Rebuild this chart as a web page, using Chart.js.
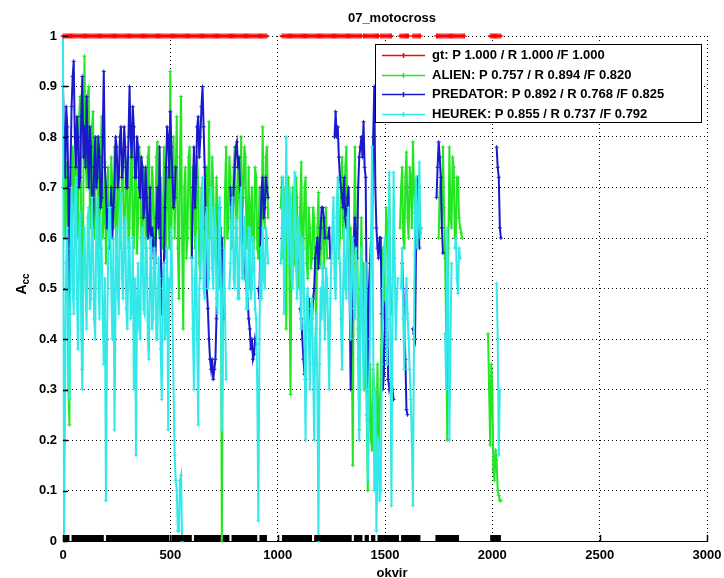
<!DOCTYPE html>
<html>
<head>
<meta charset="utf-8">
<script src="https://cdn.jsdelivr.net/npm/chart.js@4.4.1/dist/chart.umd.min.js"></script>
<style>
html,body{margin:0;padding:0;background:#fff;}
#wrap{width:724px;height:578px;position:relative;}
</style>
</head>
<body>
<div id="wrap"><canvas id="c" width="724" height="578"></canvas></div>
<script>
// ---------------- data ----------------
const chartTitle = '07_motocross';
const xAxisTitle = 'okvir';
const yAxisTitleMain = 'A';
const yAxisTitleSub = 'cc';
const xTickLabels = ['0','500','1000','1500','2000','2500','3000'];
const yTickLabels = ['0','0.1','0.2','0.3','0.4','0.5','0.6','0.7','0.8','0.9','1'];
const seriesNames = [
  'gt: P 1.000 / R 1.000 /F 1.000',
  'ALIEN: P 0.757 / R 0.894 /F 0.820',
  'PREDATOR: P 0.892 / R 0.768 /F 0.825',
  'HEUREK: P 0.855 / R 0.737 /F 0.792'
];

// frame numbers (every 5th frame)
const frames = [
  0,5,10,15,20,25,30,35,40,45,50,55,60,65,70,75,80,85,90,95,
  100,105,110,115,120,125,130,135,140,145,150,155,160,165,170,175,180,185,190,195,
  200,205,210,215,220,225,230,235,240,245,250,255,260,265,270,275,280,285,290,295,
  300,305,310,315,320,325,330,335,340,345,350,355,360,365,370,375,380,385,390,395,
  400,405,410,415,420,425,430,435,440,445,450,455,460,465,470,475,480,485,490,495,
  500,505,510,515,520,525,530,535,540,545,550,555,560,565,570,575,580,585,590,595,
  600,605,610,615,620,625,630,635,640,645,650,655,660,665,670,675,680,685,690,695,
  700,705,710,715,720,725,730,735,740,745,750,755,760,765,770,775,780,785,790,795,
  800,805,810,815,820,825,830,835,840,845,850,855,860,865,870,875,880,885,890,895,
  900,905,910,915,920,925,930,935,940,945,950,955,960,965,970,975,980,985,990,995,
  1000,1005,1010,1015,1020,1025,1030,1035,1040,1045,1050,1055,1060,1065,1070,1075,1080,1085,1090,1095,
  1100,1105,1110,1115,1120,1125,1130,1135,1140,1145,1150,1155,1160,1165,1170,1175,1180,1185,1190,1195,
  1200,1205,1210,1215,1220,1225,1230,1235,1240,1245,1250,1255,1260,1265,1270,1275,1280,1285,1290,1295,
  1300,1305,1310,1315,1320,1325,1330,1335,1340,1345,1350,1355,1360,1365,1370,1375,1380,1385,1390,1395,
  1400,1405,1410,1415,1420,1425,1430,1435,1440,1445,1450,1455,1460,1465,1470,1475,1480,1485,1490,1495,
  1500,1505,1510,1515,1520,1525,1530,1535,1540,1545,1550,1555,1560,1565,1570,1575,1580,1585,1590,1595,
  1600,1605,1610,1615,1620,1625,1630,1635,1640,1645,1650,1655,1660,1665,1670,1675,1680,1685,1690,1695,
  1700,1705,1710,1715,1720,1725,1730,1735,1740,1745,1750,1755,1760,1765,1770,1775,1780,1785,1790,1795,
  1800,1805,1810,1815,1820,1825,1830,1835,1840,1845,1850,1855,1860,1865,1870,1875,1880,1885,1890,1895,
  1900,1905,1910,1915,1920,1925,1930,1935,1940,1945,1950,1955,1960,1965,1970,1975,1980,1985,1990,1995,
  2000,2005,2010,2015,2020,2025,2030,2035,2040
];

const N = null;

const gt = [
  1,1,1,1,1,1,1,1,1,1,1,1,1,1,1,1,1,1,1,1,
  1,1,1,1,1,1,1,1,1,1,1,1,1,1,1,1,1,1,1,1,
  1,1,1,1,1,1,1,1,1,1,1,1,1,1,1,1,1,1,1,1,
  1,1,1,1,1,1,1,1,1,1,1,1,1,1,1,1,1,1,1,1,
  1,1,1,1,1,1,1,1,1,1,1,1,1,1,1,1,1,1,1,1,
  1,1,1,1,1,1,1,1,1,1,1,1,1,1,1,1,1,1,1,1,
  1,1,1,1,1,1,1,1,1,1,1,1,1,1,1,1,1,1,1,1,
  1,1,1,1,1,1,1,1,1,1,1,1,1,1,1,1,1,1,1,1,
  1,1,1,1,1,1,1,1,1,1,1,1,1,1,1,1,1,1,1,1,
  1,1,1,1,1,1,1,1,1,1,1,N,N,N,N,N,N,N,N,N,
  N,N,N,N,1,1,1,1,1,1,1,1,1,1,1,1,1,1,1,1,
  1,1,1,1,1,1,1,1,1,1,1,1,1,1,1,1,1,1,1,1,
  1,1,1,1,1,1,1,1,1,1,1,1,1,1,1,1,1,1,1,1,
  1,1,1,1,1,1,1,1,1,1,1,1,1,1,1,1,1,1,1,N,
  1,1,1,1,1,1,1,1,1,1,1,1,1,1,1,N,1,1,1,1,
  1,1,1,1,1,1,1,N,N,N,N,N,N,N,1,1,1,1,1,1,
  1,1,1,N,N,N,1,1,1,1,1,1,1,1,N,N,N,N,N,N,
  N,N,N,N,N,N,N,N,1,1,1,1,1,1,1,1,1,1,1,1,
  1,1,1,1,1,1,1,1,1,1,1,1,1,1,1,N,N,N,N,N,
  N,N,N,N,N,N,N,N,N,N,N,N,N,N,N,N,N,N,1,1,
  1,1,1,1,1,1,1,1,1
];

const alien = [
  0.70,0.74,0.60,0.72,0.75,0.30,0.23,0.62,0.55,0.78,0.72,0.60,0.82,0.66,0.60,0.84,0.88,0.62,0.34,0.70,
  0.96,0.76,0.70,0.88,0.90,0.66,0.62,0.82,0.85,0.60,0.66,0.78,0.80,0.62,0.58,0.76,0.84,0.60,0.64,0.75,
  0.55,0.70,0.74,0.58,0.60,0.76,0.70,0.62,0.78,0.64,0.56,0.74,0.72,0.58,0.62,0.77,0.76,0.58,0.60,0.75,
  0.74,0.58,0.62,0.76,0.78,0.60,0.58,0.74,0.72,0.57,0.64,0.78,0.75,0.60,0.56,0.74,0.72,0.58,0.62,0.76,
  0.78,0.62,0.58,0.74,0.70,0.56,0.62,0.76,0.79,0.62,0.60,0.72,0.64,0.58,0.78,0.60,0.56,0.72,0.74,0.58,
  0.93,0.62,0.70,0.80,0.60,0.72,0.84,0.58,0.48,0.76,0.88,0.60,0.42,0.70,0.74,0.56,0.60,0.76,0.78,0.62,
  0.56,0.74,0.72,0.58,0.62,0.76,0.70,0.55,0.52,0.70,0.66,0.56,0.58,0.72,0.74,0.60,0.83,0.64,0.60,0.76,
  0.70,0.58,0.56,0.72,0.66,0.54,0.50,0.62,0.00,0.48,0.50,0.70,0.78,0.60,0.62,0.76,0.72,0.58,0.60,0.74,
  0.78,0.62,0.64,0.76,0.70,0.60,0.80,0.64,0.68,0.78,0.76,0.58,0.62,0.74,0.50,0.66,0.70,0.56,0.60,0.74,
  0.72,0.58,0.56,0.70,0.66,0.60,0.82,0.64,0.62,0.76,0.78,0.64,N,N,N,N,N,N,N,N,
  N,N,N,0.66,0.72,0.56,0.58,0.70,0.42,0.66,0.72,0.50,0.29,0.62,0.70,0.56,0.55,0.72,0.68,0.54,
  0.50,0.66,0.75,0.56,0.58,0.70,0.72,0.55,0.52,0.66,0.62,0.54,0.56,0.66,0.64,0.50,0.42,0.62,0.69,0.56,
  0.55,0.64,0.62,0.54,0.60,0.66,0.56,N,N,N,N,N,N,N,N,0.64,0.70,0.56,0.60,0.72,
  0.76,0.60,0.65,0.74,0.78,0.62,0.70,0.56,0.62,0.40,0.15,0.60,0.78,0.58,0.62,0.42,0.22,0.50,0.64,0.48,
  0.55,0.30,0.40,0.25,0.10,0.28,0.35,0.20,0.18,0.34,0.30,0.16,0.22,0.35,0.18,0.26,0.32,0.45,0.58,0.44,
  0.48,0.66,0.62,0.54,0.70,0.52,0.45,N,N,N,N,N,N,N,0.62,0.70,0.74,0.60,0.58,0.72,
  0.77,0.64,0.60,0.74,0.72,0.62,0.79,0.70,0.65,N,N,N,N,N,N,N,N,N,N,N,
  N,N,N,N,N,N,N,N,N,N,0.60,0.70,0.72,0.62,0.78,0.66,0.56,0.41,0.20,0.58,
  0.78,0.64,0.62,0.76,0.74,0.60,0.60,0.72,0.72,0.64,0.62,0.61,0.60,N,N,N,N,N,N,N,
  N,N,N,N,N,N,N,N,N,N,N,N,N,N,N,N,0.41,0.30,0.19,0.35,
  0.30,0.14,0.12,0.18,0.16,0.10,0.09,0.08,0.08
];

const predator = [
  0.90,0.80,0.72,0.86,0.82,0.70,0.45,0.74,0.86,0.92,0.95,0.80,0.74,0.84,0.80,0.70,0.72,0.84,0.92,0.76,
  0.82,0.74,0.88,0.78,0.70,0.82,0.78,0.66,0.62,0.74,0.80,0.70,0.72,0.80,0.76,0.66,0.68,0.80,0.93,0.74,
  0.70,0.62,0.66,0.58,0.62,0.70,0.60,0.66,0.70,0.80,0.78,0.70,0.72,0.80,0.82,0.72,0.74,0.82,0.78,0.70,
  0.70,0.80,0.90,0.80,0.76,0.86,0.82,0.72,0.72,0.80,0.78,0.70,0.68,0.76,0.74,0.64,0.66,0.74,0.68,0.60,
  0.62,0.70,0.56,0.62,0.60,0.54,0.55,0.64,0.70,0.62,0.78,0.60,0.45,0.50,0.55,0.66,0.74,0.82,0.80,0.72,
  0.85,0.78,0.72,0.66,0.68,0.74,N,N,N,N,N,N,N,N,N,N,N,N,N,N,
  0.56,0.70,0.78,0.66,0.72,0.82,0.84,0.76,0.80,0.86,0.90,0.82,0.74,0.62,0.50,0.46,0.40,0.36,0.34,0.36,
  0.32,0.34,0.36,0.44,0.55,0.64,0.66,0.58,0.60,0.50,0.44,N,N,N,N,N,0.70,0.64,0.62,0.70,
  0.74,0.78,0.79,0.74,0.76,0.70,0.68,0.62,0.58,0.56,0.52,0.50,0.48,0.44,0.42,0.38,0.40,0.36,0.37,0.40,
  0.39,N,0.50,0.48,0.62,0.70,0.72,0.64,0.66,0.72,0.70,0.68,N,N,N,N,N,N,N,N,
  N,N,N,N,N,N,N,N,N,N,N,N,N,N,N,N,N,N,0.56,0.55,
  N,0.46,0.44,0.40,0.36,0.33,0.32,N,N,0.48,0.46,0.42,0.44,0.48,0.50,0.56,0.58,0.60,0.54,0.58,
  0.62,0.66,0.66,0.64,0.60,N,N,0.60,0.62,0.56,0.58,N,N,0.80,0.85,0.80,0.82,0.76,0.72,0.70,
  0.68,0.66,0.72,0.64,0.62,0.68,0.70,0.50,0.30,0.44,0.55,0.60,0.64,0.58,0.56,0.70,0.76,0.78,0.80,0.76,
  0.83,0.74,0.72,0.45,0.24,0.50,0.55,0.60,0.62,0.80,0.90,0.70,0.62,0.58,0.56,0.60,0.60,0.45,0.30,0.33,
  0.46,0.45,0.44,0.32,0.30,0.31,0.32,0.30,0.28,N,N,N,N,N,N,N,0.55,0.50,0.44,0.36,
  0.26,0.25,N,N,N,N,0.42,0.41,0.40,0.60,0.72,0.66,0.58,N,N,N,N,N,N,N,
  N,N,N,N,N,N,N,N,0.68,0.74,0.79,0.76,0.72,0.62,0.57,N,N,N,N,N,
  N,N,N,N,N,N,N,N,N,N,N,N,N,N,N,N,N,N,N,N,
  N,N,N,N,N,N,N,N,N,N,N,N,N,N,N,N,N,N,N,N,
  N,N,N,N,0.78,0.74,0.72,0.62,0.60
];

const heurek = [
  1.00,0.00,0.30,0.55,0.62,0.40,0.28,0.58,0.70,0.50,0.45,0.66,0.72,0.48,0.38,0.60,0.65,0.42,0.30,0.56,
  0.62,0.50,0.42,0.64,0.66,0.46,0.48,0.68,0.60,0.44,0.40,0.62,0.68,0.50,0.44,0.64,0.58,0.45,0.35,0.52,
  0.08,0.40,0.55,0.66,0.66,0.50,0.40,0.60,0.22,0.48,0.62,0.50,0.45,0.66,0.69,0.52,0.48,0.62,0.64,0.46,
  0.42,0.58,0.60,0.44,0.46,0.60,0.30,0.52,0.17,0.48,0.55,0.42,0.40,0.60,0.62,0.46,0.45,0.60,0.58,0.40,
  0.36,0.52,0.60,0.42,0.44,0.58,0.56,0.40,0.40,0.56,0.52,0.38,0.28,0.50,0.55,0.40,0.42,0.58,0.22,0.52,
  0.50,0.62,0.45,0.30,0.17,0.12,0.10,0.02,0.02,0.12,0.13,0.00,N,N,N,N,N,N,N,N,
  0.56,0.42,0.30,0.52,0.60,0.40,0.23,0.50,0.55,0.68,0.72,0.50,0.48,0.64,0.66,0.50,0.52,0.68,0.70,0.54,
  0.50,0.66,0.62,0.48,0.45,0.64,0.68,0.50,0.22,0.48,0.58,0.45,0.32,N,N,0.50,0.55,0.66,0.68,0.52,
  0.50,0.64,0.62,0.48,0.48,0.66,0.70,0.52,0.52,0.64,0.60,0.46,0.46,0.62,0.62,0.48,0.50,0.60,0.56,0.46,
  0.44,0.30,0.04,0.40,0.58,0.48,0.62,0.52,0.50,0.62,0.60,0.55,N,N,N,N,N,N,N,N,
  N,N,N,0.55,0.62,0.72,0.45,0.60,0.80,0.62,0.55,0.70,0.68,0.52,0.50,0.66,0.73,0.56,0.48,0.64,
  0.62,0.50,0.42,0.60,0.58,0.40,0.20,0.48,0.50,0.40,0.30,0.46,0.48,0.35,0.20,0.40,0.45,0.30,0.00,0.35,
  0.50,0.44,0.55,0.48,0.40,0.54,0.52,0.42,0.30,0.48,0.55,0.62,0.68,0.52,0.48,0.64,0.72,0.58,0.55,0.44,
  0.34,0.50,0.62,0.50,0.48,0.64,0.66,0.50,0.40,0.56,0.60,0.46,0.44,0.58,0.52,0.36,0.20,0.44,0.58,0.42,
  0.30,0.46,0.55,0.30,0.12,0.30,0.40,0.60,0.78,0.40,0.10,0.30,0.02,0.15,0.20,0.08,0.10,0.35,0.50,0.58,
  0.60,0.48,0.35,0.55,0.73,0.40,0.07,0.45,0.73,0.56,0.40,0.48,0.52,N,N,0.50,0.58,0.44,0.34,0.46,
  0.52,0.45,0.40,0.34,0.28,0.20,0.07,0.40,0.66,0.72,0.58,0.64,0.75,0.60,0.62,N,N,N,N,N,
  N,N,N,N,N,N,N,N,N,N,N,N,N,N,N,N,0.41,0.30,0.62,0.45,
  0.20,0.40,0.55,N,N,0.58,0.60,0.52,0.49,0.58,0.56,N,N,N,N,N,N,N,N,N,
  N,N,N,N,N,N,N,N,N,N,N,N,N,N,N,N,N,N,N,N,
  N,N,N,N,0.51,0.40,0.17,0.30,N
];

// frames marked at zero (black band along the bottom)
const missed = [
  0,0,0,0,0,0,0,N,0,0,0,0,0,0,0,0,0,0,0,0,
  0,0,0,0,0,0,0,0,0,0,0,0,0,0,0,0,0,0,0,N,
  0,0,0,0,0,0,0,0,0,0,0,0,0,0,0,0,0,0,0,0,
  0,0,0,0,0,0,0,0,0,0,0,0,0,0,0,0,0,0,0,0,
  0,0,0,0,0,0,0,0,0,0,0,0,0,0,0,0,0,0,0,0,
  N,0,0,0,0,0,0,0,0,0,0,0,0,0,0,0,0,0,0,0,
  0,N,0,0,0,0,0,0,0,0,0,0,0,0,0,0,0,0,0,0,
  0,0,0,0,0,0,0,0,N,0,0,0,0,0,0,0,N,0,0,0,
  0,0,0,0,0,0,0,0,0,0,0,0,0,0,0,0,0,0,0,0,
  0,0,N,0,0,0,0,0,0,0,0,N,N,N,N,N,N,N,N,N,
  N,N,N,N,0,0,0,0,0,0,0,0,0,0,0,0,0,0,0,0,
  0,0,0,0,0,0,0,0,0,0,0,0,0,N,0,0,0,0,0,0,
  0,0,0,0,0,0,0,0,0,0,0,0,0,0,0,0,0,0,0,0,
  0,0,0,0,0,0,0,0,0,0,N,0,0,0,0,0,0,0,0,0,
  N,0,0,0,0,0,N,0,0,0,0,0,N,0,0,0,0,0,0,0,
  0,0,0,0,0,0,0,0,0,0,0,0,0,0,N,0,0,0,0,0,
  0,0,0,0,0,0,0,0,0,0,0,0,0,0,N,N,N,N,N,N,
  N,N,N,N,N,N,N,0,0,0,0,0,0,0,0,0,0,0,0,0,
  0,0,0,0,0,0,0,0,0,0,N,N,N,N,N,N,N,N,N,N,
  N,N,N,N,N,N,N,N,N,N,N,N,N,N,N,N,N,N,0,0,
  0,0,0,0,0,0,0,0,0
];

// ---------------- styles ----------------
const COL_GT = '#ff0000';
const COL_ALIEN = '#22e622';
const COL_PRED = '#1a1acc';
const COL_HEUR = '#33e8e8';
const FONT = '"Liberation Sans", Arial, Helvetica, sans-serif';

function pts(vals) { return frames.map((f, i) => ({ x: f, y: vals[i] === undefined ? null : vals[i] })); }
function series(label, vals, color, bw, pr) {
  return {
    label, data: pts(vals), borderColor: color, backgroundColor: color,
    borderWidth: bw, tension: 0, fill: false, clip: 4,
    pointStyle: 'cross', pointRadius: pr, pointBorderWidth: 1,
    pointBorderColor: color, pointBackgroundColor: color
  };
}

const insideTicks = {
  id: 'insideTicks',
  afterDatasetsDraw(chart) {
    const { ctx, chartArea: a, scales: { x, y } } = chart;
    ctx.save();
    ctx.strokeStyle = '#000';
    ctx.lineWidth = 1.5;
    ctx.beginPath();
    y.ticks.forEach(t => { const py = Math.round(y.getPixelForValue(t.value)) + 0.5; ctx.moveTo(a.left, py); ctx.lineTo(a.left + 5, py); });
    x.ticks.forEach(t => { const px = Math.round(x.getPixelForValue(t.value)) + 0.5; ctx.moveTo(px, a.bottom); ctx.lineTo(px, a.bottom - 6); });
    ctx.stroke();
    ctx.restore();
  }
};

const textAndLegend = {
  id: 'textAndLegend',
  afterDraw(chart) {
    const { ctx, chartArea: a } = chart;
    ctx.save();
    ctx.fillStyle = '#000';
    ctx.font = 'bold 13px ' + FONT;
    ctx.textAlign = 'center';
    ctx.textBaseline = 'middle';
    ctx.fillText(chartTitle, 392, 18);
    ctx.textBaseline = 'alphabetic';
    ctx.fillText(xAxisTitle, 392, 577);
    ctx.save();
    ctx.translate(22, 284);
    ctx.rotate(-Math.PI / 2);
    ctx.font = 'bold 14px ' + FONT;
    const wA = ctx.measureText(yAxisTitleMain).width;
    ctx.font = 'bold 10px ' + FONT;
    const wS = ctx.measureText(yAxisTitleSub).width;
    const start = -(wA + wS) / 2;
    ctx.textAlign = 'left';
    ctx.textBaseline = 'middle';
    ctx.font = 'bold 14px ' + FONT;
    ctx.fillText(yAxisTitleMain, start, 0);
    ctx.font = 'bold 10px ' + FONT;
    ctx.fillText(yAxisTitleSub, start + wA, 4);
    ctx.restore();

    const right = a.right - 6, top = a.top + 8, w = 326, h = 78;
    const left = right - w;
    ctx.fillStyle = '#fff';
    ctx.fillRect(left, top, w, h);
    ctx.strokeStyle = '#000';
    ctx.lineWidth = 1;
    ctx.strokeRect(Math.round(left) + 0.5, Math.round(top) + 0.5, w, h);
    const cols = [COL_GT, COL_ALIEN, COL_PRED, COL_HEUR];
    ctx.font = 'bold 13px ' + FONT;
    ctx.textAlign = 'left';
    ctx.textBaseline = 'middle';
    for (let i = 0; i < seriesNames.length; i++) {
      const yy = Math.round(top + 11 + i * 19.5) + 0.5;
      ctx.strokeStyle = cols[i];
      ctx.lineWidth = 1.5;
      ctx.beginPath();
      ctx.moveTo(left + 7, yy); ctx.lineTo(left + 50, yy);
      const mx = left + 28.5;
      ctx.moveTo(mx, yy - 2.5); ctx.lineTo(mx, yy + 2.5);
      ctx.stroke();
      ctx.fillStyle = '#000';
      ctx.fillText(seriesNames[i], left + 57, yy);
    }
    ctx.restore();
  }
};

const tickFont = { family: FONT, size: 13, weight: 'bold' };

new Chart(document.getElementById('c'), {
  type: 'line',
  data: {
    datasets: [
      { label: 'missed', data: pts(missed), borderColor: '#000', backgroundColor: '#000',
        borderWidth: 12, pointRadius: 0, clip: 0, borderCapStyle: 'butt', tension: 0, fill: false },
      series(seriesNames[0], gt, COL_GT, 2, 2.5),
      series(seriesNames[3], heurek, COL_HEUR, 2, 2),
      series(seriesNames[2], predator, COL_PRED, 2, 2),
      series(seriesNames[1], alien, COL_ALIEN, 2, 2)
    ]
  },
  options: {
    responsive: false,
    animation: false,
    devicePixelRatio: 1,
    events: [],
    layout: { padding: { left: 0, right: 17, top: 36, bottom: 0 } },
    plugins: { legend: { display: false }, tooltip: { enabled: false }, title: { display: false } },
    scales: {
      x: {
        type: 'linear', min: 0, max: 3000,
        afterFit: s => { s.height = 37; s.paddingLeft = 0; s.paddingRight = 0; },
        ticks: { stepSize: 500, padding: 7, color: '#000', font: tickFont, maxRotation: 0, autoSkip: false,
                 callback: (v, i) => xTickLabels[i] },
        grid: { color: '#000', lineWidth: 1, drawTicks: false },
        border: { display: true, color: '#000', width: 1, dash: [1, 3] }
      },
      y: {
        type: 'linear', min: 0, max: 1,
        afterFit: s => { s.width = 63; s.paddingTop = 0; s.paddingBottom = 0; },
        ticks: { stepSize: 0.1, padding: 6, color: '#000', font: tickFont,
                 callback: (v, i) => yTickLabels[i] },
        grid: { color: '#000', lineWidth: 1, drawTicks: false },
        border: { display: true, color: '#000', width: 1, dash: [1, 3] }
      }
    }
  },
  plugins: [insideTicks, textAndLegend]
});
</script>
</body>
</html>
